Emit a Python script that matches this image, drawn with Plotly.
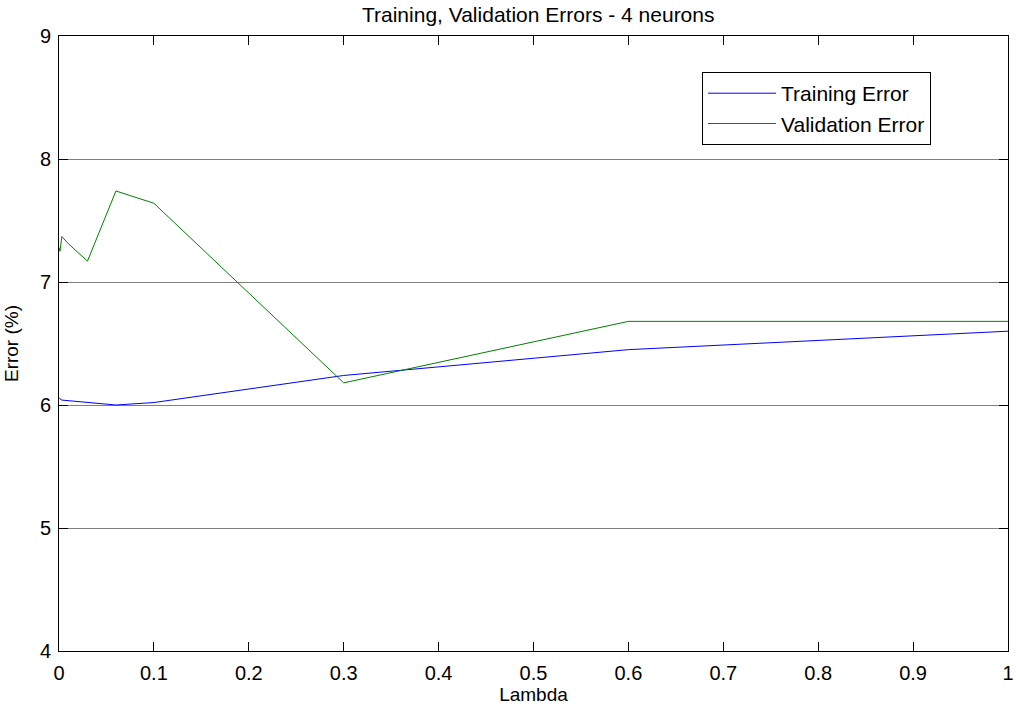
import plotly.graph_objects as go

# lambda values and error rates (%)
lambdas = [0, 0.001, 0.003, 0.01, 0.03, 0.06, 0.1, 0.3, 0.6, 1]
train_err = [6.06, 6.05, 6.04, 6.035, 6.02, 6.00, 6.02, 6.24, 6.45, 6.60]
valid_err = [7.28, 7.25, 7.37, 7.31, 7.17, 7.74, 7.64, 6.18, 6.68, 6.68]

x_ticks = [0, 0.1, 0.2, 0.3, 0.4, 0.5, 0.6, 0.7, 0.8, 0.9, 1]
x_tick_text = ["0", "0.1", "0.2", "0.3", "0.4", "0.5", "0.6", "0.7", "0.8", "0.9", "1"]
y_ticks = [4, 5, 6, 7, 8, 9]

fig = go.Figure()
fig.add_trace(go.Scatter(x=lambdas, y=train_err, mode="lines", name="Training Error",
                         line=dict(color="#0000ff", width=1)))
fig.add_trace(go.Scatter(x=lambdas, y=valid_err, mode="lines", name="Validation Error",
                         line=dict(color="#008000", width=1)))

font = dict(family="Liberation Sans, Arial, sans-serif", color="black")

fig.update_layout(
    width=1017, height=711,
    margin=dict(l=59, r=9, t=36, b=60, autoexpand=False),
    paper_bgcolor="white", plot_bgcolor="white",
    font=dict(size=20, **font),
    title=dict(text="Training, Validation Errors - 4 neurons", x=0.505, xref="paper",
               xanchor="center", y=0.980, yanchor="middle", font=dict(size=21, **font)),
    showlegend=True,
    legend=dict(x=0.6776, y=0.9414, xanchor="left", yanchor="top",
                bordercolor="black", borderwidth=1, bgcolor="white",
                font=dict(size=21, **font), itemwidth=68, tracegroupgap=0),
)
fig.update_xaxes(
    range=[0, 1], tickvals=x_ticks, ticktext=x_tick_text,
    showgrid=False, zeroline=False,
    showline=True, linecolor="black", linewidth=1, mirror="ticks",
    ticks="inside", ticklen=9, tickcolor="black", ticklabelstandoff=4,
    title=dict(text="Lambda", font=dict(size=19, **font), standoff=2),
)
fig.update_yaxes(
    range=[4, 9], tickvals=y_ticks,
    showgrid=True, gridcolor="#808080", gridwidth=1, zeroline=False,
    showline=True, linecolor="black", linewidth=1, mirror="ticks",
    ticks="inside", ticklen=9, tickcolor="black", ticklabelstandoff=3,
    title=dict(text="Error (%)", font=dict(size=19, **font), standoff=16),
)

# drop the default page margin so the figure sits at the window's top-left corner
fig.write_html("out.html", config={"displayModeBar": False},
               post_script="document.body.style.margin='0';")
